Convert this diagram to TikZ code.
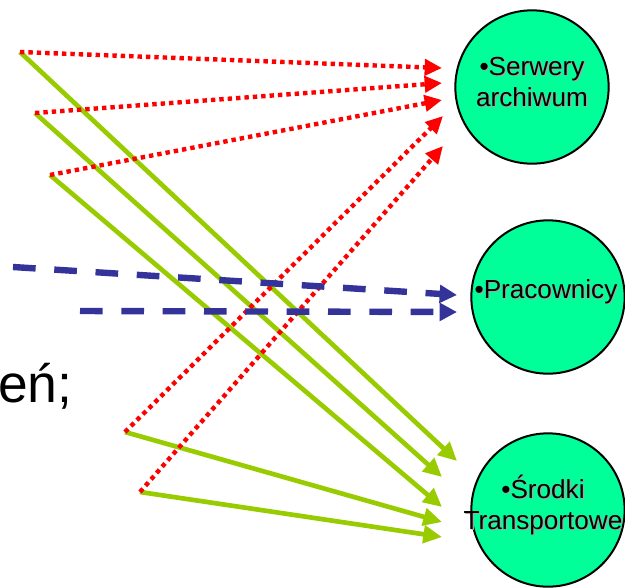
\documentclass[tikz,border=0pt]{standalone}
\usepackage{fontspec}
\setmainfont{Liberation Sans}
\usetikzlibrary{arrows.meta}
\definecolor{BlobGreen}{HTML}{00FF99}
\definecolor{LinkGreen}{HTML}{99CC00}
\definecolor{LinkBlue}{HTML}{333399}
\definecolor{LinkRed}{HTML}{FF0000}

\begin{document}
\begin{tikzpicture}[
    x=0.75pt, y=-0.75pt,
    blob/.style={circle, draw=black, line width=1.5pt, fill=BlobGreen, minimum size=115pt, inner sep=0pt},
    blobtext/.style={align=center, inner sep=0pt, font=\fontsize{19.6}{23}\selectfont},
    blobshade/.style={blobtext, text=black!35, xshift=0.9pt, yshift=-0.9pt},
    redlink/.style={draw=LinkRed, line width=3.3pt, dash pattern=on 3.3pt off 3pt,
      -{Triangle[length=13pt, width=12pt]}},
    greenlink/.style={draw=LinkGreen, line width=3.5pt,
      -{Triangle[length=14pt, width=13pt]}},
    bluelink/.style={draw=LinkBlue, line width=4.8pt, dash pattern=on 17pt off 14pt,
      -{Triangle[length=13pt, width=13pt]}}
  ]
    \useasboundingbox (0,0) rectangle (625,587);

    % the three targets
    \node[blob] (serwery) at (532,87) {};
    \node[blob] (pracownicy) at (548,297) {};
    \node[blob] (srodki) at (548,510) {};
    \node[blobshade] (serweryS) at (532,82) {\textbullet Serwery\\archiwum};
    \node[blobshade] (pracownicyS) at (546,292) {\textbullet Pracownicy};
    \node[blobshade] (srodkiS) at (543,505) {\textbullet Środki\\Transportowe};
    \node[blobtext] (serweryT) at (532,82) {\textbullet Serwery\\archiwum};
    \node[blobtext] (pracownicyT) at (546,292) {\textbullet Pracownicy};
    \node[blobtext] (srodkiT) at (543,505) {\textbullet Środki\\Transportowe};

    % leftover of the text line
    \node[anchor=base west, inner sep=0pt, font=\fontsize{40}{44}\selectfont] (reszta) at (-2,402) {eń;};

    % start points
    \coordinate (s1) at (20,52);
    \coordinate (s2) at (35,113);
    \coordinate (s3) at (50,175);
    \coordinate (s4) at (125,432);
    \coordinate (s5) at (140,492);
    \coordinate (b1) at (13,267);
    \coordinate (b2) at (80,311);

    % arrow ends
    \coordinate (r1) at (442,68);
    \coordinate (r2) at (442,83);
    \coordinate (r3) at (442,100);
    \coordinate (r4) at (443,116);
    \coordinate (r5) at (443,146);
    \coordinate (g1) at (457,461);
    \coordinate (g2) at (442,477);
    \coordinate (g3) at (442,507);
    \coordinate (g4) at (442,522);
    \coordinate (g5) at (442,537);
    \coordinate (p1) at (457,295);
    \coordinate (p2) at (457,312);

    \draw[greenlink] (s1) -- (g1);
    \draw[greenlink] (s2) -- (g2);
    \draw[greenlink] (s3) -- (g3);
    \draw[greenlink] (s4) -- (g4);
    \draw[greenlink] (s5) -- (g5);

    \draw[redlink] (s1) -- (r1);
    \draw[redlink] (s2) -- (r2);
    \draw[redlink] (s3) -- (r3);
    \draw[redlink] (s4) -- (r4);
    \draw[redlink] (s5) -- (r5);

    \draw[bluelink] (b1) -- (p1);
    \draw[bluelink] (b2) -- (p2);
\end{tikzpicture}
\end{document}
